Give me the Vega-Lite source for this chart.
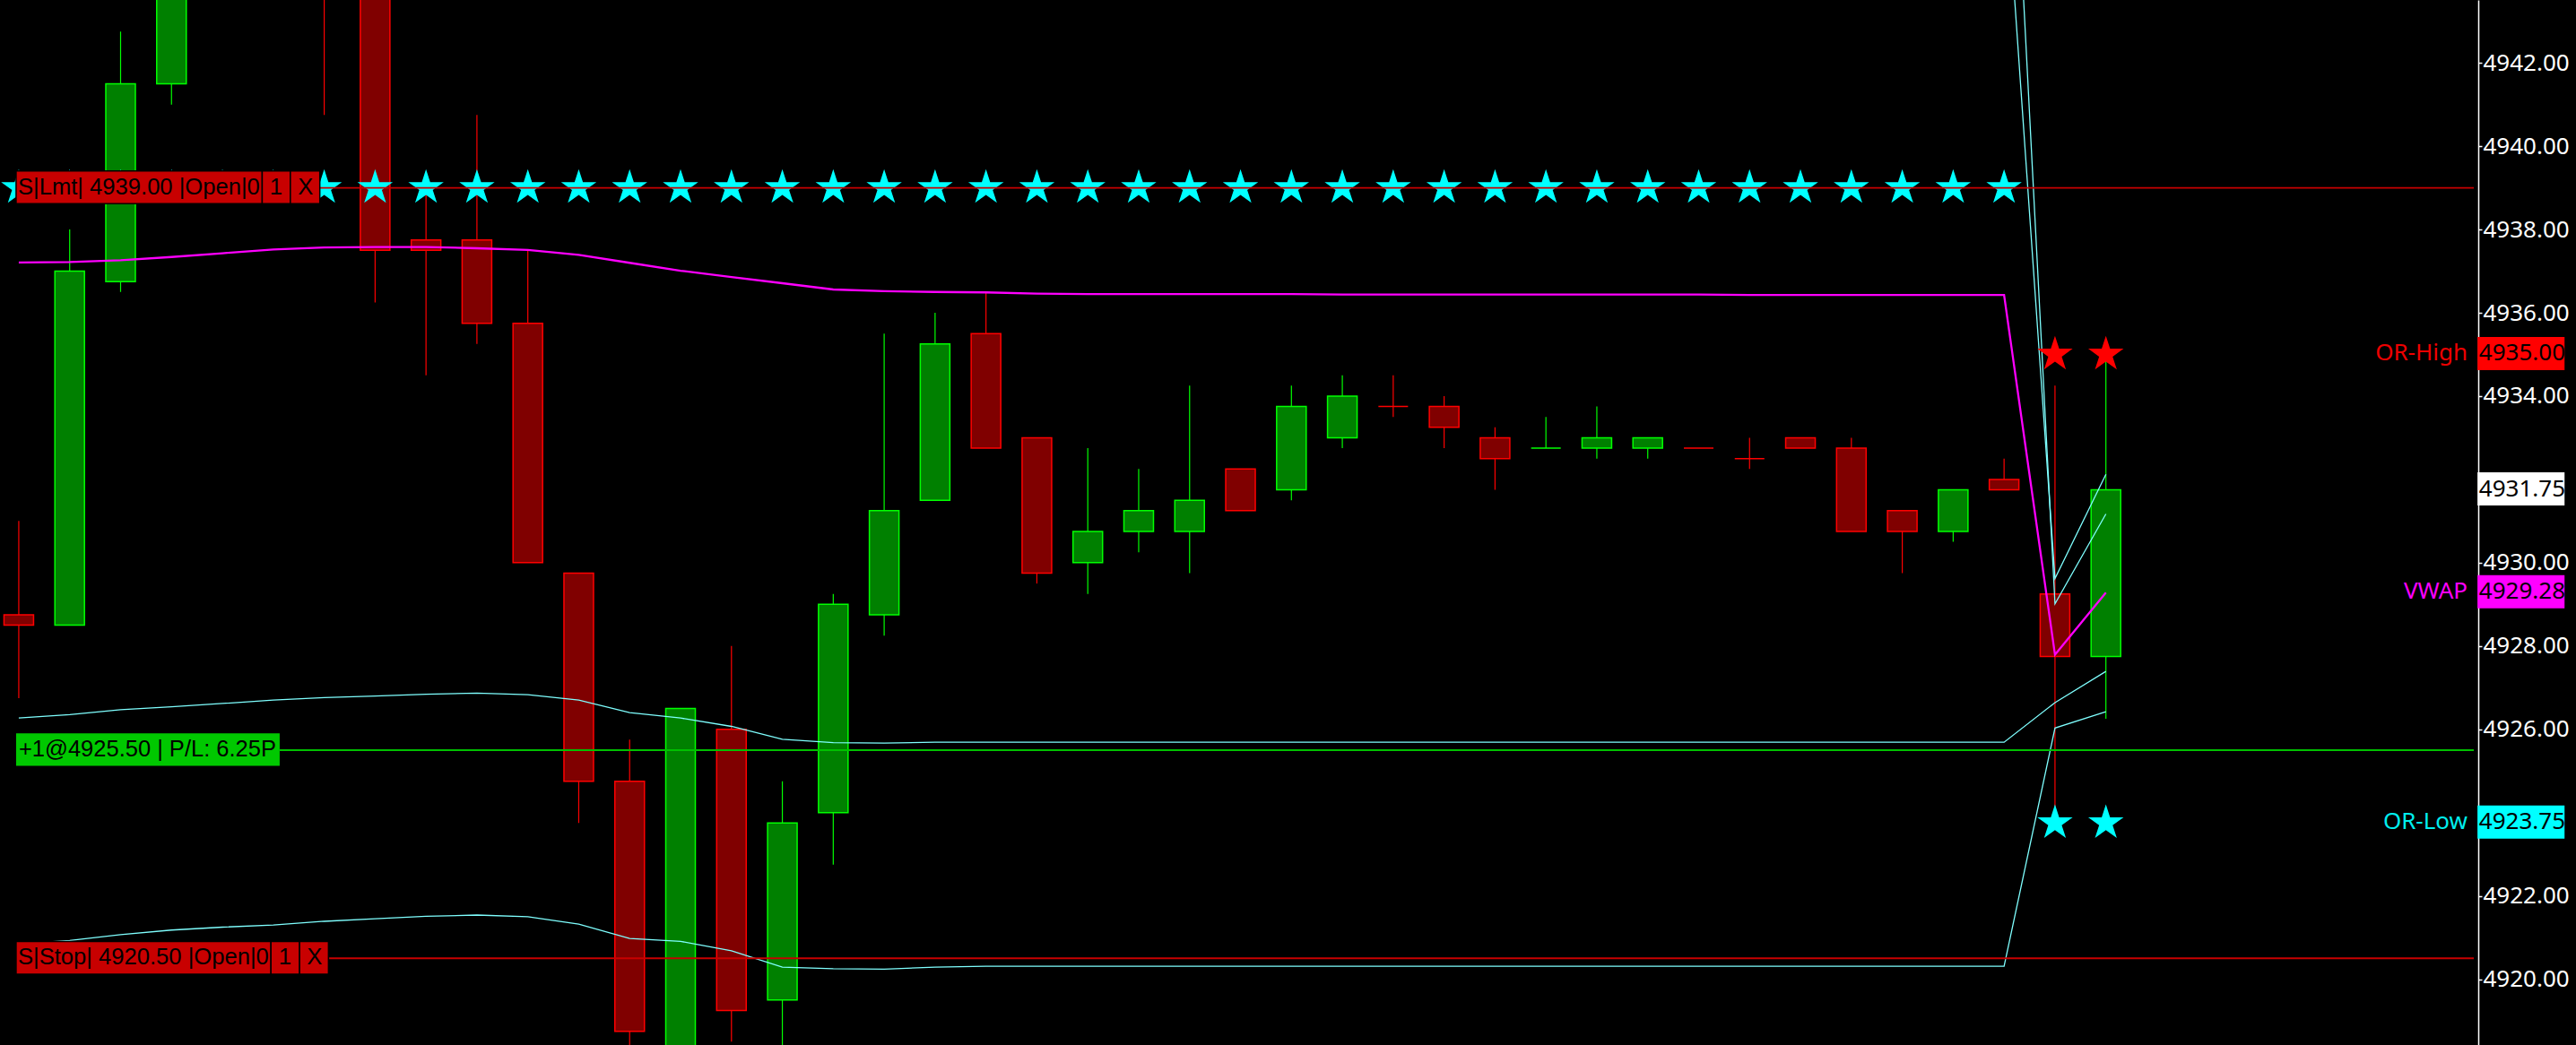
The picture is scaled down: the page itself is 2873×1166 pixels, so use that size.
{
"$schema": "https://vega.github.io/schema/vega-lite/v6.json",
"width": 2873,
"height": 1166,
"autosize": {"type": "fit", "contains": "padding"},
"padding": {"left": 0, "top": 0, "right": 7, "bottom": 0},
"background": "#000000",
"config": {"view": {"stroke": null},
 "axis": {"grid": false, "domainColor": "#ffffff", "domainWidth": 1.5, "tickColor": "#ffffff", "tickSize": 4, "tickWidth": 1.5,
          "labelColor": "#ffffff", "labelFont": "Noto Sans", "labelFontSize": 26, "labelPadding": 1, "labelFlush": false, "labelOverlap": false, "labelBound": false}},
"resolve": {"scale": {"color": "independent", "fill": "independent", "stroke": "independent"}},
"datasets": {
"candles": [
{"i":0,"open":4928.75,"high":4931.0,"low":4926.75,"close":4928.5,"dir":"down"},
{"i":1,"open":4928.5,"high":4938.0,"low":4928.5,"close":4937.0,"dir":"up"},
{"i":2,"open":4936.75,"high":4942.75,"low":4936.5,"close":4941.5,"dir":"up"},
{"i":3,"open":4941.5,"high":4946.0,"low":4941.0,"close":4945.5,"dir":"up"},
{"i":4,"open":4945.5,"high":4947.25,"low":4944.25,"close":4946.75,"dir":"up"},
{"i":5,"open":4946.75,"high":4947.5,"low":4944.5,"close":4945.25,"dir":"down"},
{"i":6,"open":4945.25,"high":4946.0,"low":4940.75,"close":4944.0,"dir":"down"},
{"i":7,"open":4944.0,"high":4944.5,"low":4936.25,"close":4937.5,"dir":"down"},
{"i":8,"open":4937.75,"high":4939.25,"low":4934.5,"close":4937.5,"dir":"down"},
{"i":9,"open":4937.75,"high":4940.75,"low":4935.25,"close":4935.75,"dir":"down"},
{"i":10,"open":4935.75,"high":4937.5,"low":4930.0,"close":4930.0,"dir":"down"},
{"i":11,"open":4929.75,"high":4929.75,"low":4923.75,"close":4924.75,"dir":"down"},
{"i":12,"open":4924.75,"high":4925.75,"low":4918.0,"close":4918.75,"dir":"down"},
{"i":13,"open":4917.75,"high":4926.5,"low":4917.5,"close":4926.5,"dir":"up"},
{"i":14,"open":4926.0,"high":4928.0,"low":4918.5,"close":4919.25,"dir":"down"},
{"i":15,"open":4919.5,"high":4924.75,"low":4918.0,"close":4923.75,"dir":"up"},
{"i":16,"open":4924.0,"high":4929.25,"low":4922.75,"close":4929.0,"dir":"up"},
{"i":17,"open":4928.75,"high":4935.5,"low":4928.25,"close":4931.25,"dir":"up"},
{"i":18,"open":4931.5,"high":4936.0,"low":4931.5,"close":4935.25,"dir":"up"},
{"i":19,"open":4935.5,"high":4936.5,"low":4932.75,"close":4932.75,"dir":"down"},
{"i":20,"open":4933.0,"high":4933.0,"low":4929.5,"close":4929.75,"dir":"down"},
{"i":21,"open":4930.0,"high":4932.75,"low":4929.25,"close":4930.75,"dir":"up"},
{"i":22,"open":4930.75,"high":4932.25,"low":4930.25,"close":4931.25,"dir":"up"},
{"i":23,"open":4930.75,"high":4934.25,"low":4929.75,"close":4931.5,"dir":"up"},
{"i":24,"open":4932.25,"high":4932.25,"low":4931.25,"close":4931.25,"dir":"down"},
{"i":25,"open":4931.75,"high":4934.25,"low":4931.5,"close":4933.75,"dir":"up"},
{"i":26,"open":4933.0,"high":4934.5,"low":4932.75,"close":4934.0,"dir":"up"},
{"i":27,"open":4933.75,"high":4934.5,"low":4933.5,"close":4933.75,"dir":"down"},
{"i":28,"open":4933.75,"high":4934.0,"low":4932.75,"close":4933.25,"dir":"down"},
{"i":29,"open":4933.0,"high":4933.25,"low":4931.75,"close":4932.5,"dir":"down"},
{"i":30,"open":4932.75,"high":4933.5,"low":4932.75,"close":4932.75,"dir":"up"},
{"i":31,"open":4932.75,"high":4933.75,"low":4932.5,"close":4933.0,"dir":"up"},
{"i":32,"open":4932.75,"high":4933.0,"low":4932.5,"close":4933.0,"dir":"up"},
{"i":33,"open":4932.75,"high":4932.75,"low":4932.75,"close":4932.75,"dir":"down"},
{"i":34,"open":4932.5,"high":4933.0,"low":4932.25,"close":4932.5,"dir":"down"},
{"i":35,"open":4933.0,"high":4933.0,"low":4932.75,"close":4932.75,"dir":"down"},
{"i":36,"open":4932.75,"high":4933.0,"low":4930.75,"close":4930.75,"dir":"down"},
{"i":37,"open":4931.25,"high":4931.25,"low":4929.75,"close":4930.75,"dir":"down"},
{"i":38,"open":4930.75,"high":4931.75,"low":4930.5,"close":4931.75,"dir":"up"},
{"i":39,"open":4932.0,"high":4932.5,"low":4931.75,"close":4931.75,"dir":"down"},
{"i":40,"open":4929.25,"high":4934.25,"low":4923.75,"close":4927.75,"dir":"down"},
{"i":41,"open":4927.75,"high":4935.0,"low":4926.25,"close":4931.75,"dir":"up"}
],
"bands": [
{"i":0,"vwap":4937.21,"u1":4948.15,"u2":4953.57,"l1":4926.27,"l2":4920.85},
{"i":1,"vwap":4937.22,"u1":4948.09,"u2":4953.51,"l1":4926.35,"l2":4920.93},
{"i":2,"vwap":4937.26,"u1":4948.05,"u2":4953.45,"l1":4926.47,"l2":4921.07},
{"i":3,"vwap":4937.34,"u1":4948.14,"u2":4953.50,"l1":4926.54,"l2":4921.18},
{"i":4,"vwap":4937.43,"u1":4948.24,"u2":4953.61,"l1":4926.62,"l2":4921.25},
{"i":5,"vwap":4937.52,"u1":4948.34,"u2":4953.74,"l1":4926.70,"l2":4921.30},
{"i":6,"vwap":4937.57,"u1":4948.38,"u2":4953.75,"l1":4926.76,"l2":4921.39},
{"i":7,"vwap":4937.58,"u1":4948.36,"u2":4953.71,"l1":4926.80,"l2":4921.45},
{"i":8,"vwap":4937.58,"u1":4948.32,"u2":4953.65,"l1":4926.84,"l2":4921.51},
{"i":9,"vwap":4937.55,"u1":4948.23,"u2":4953.56,"l1":4926.87,"l2":4921.54},
{"i":10,"vwap":4937.51,"u1":4948.19,"u2":4953.52,"l1":4926.83,"l2":4921.50},
{"i":11,"vwap":4937.39,"u1":4948.08,"u2":4953.46,"l1":4926.70,"l2":4921.32},
{"i":12,"vwap":4937.20,"u1":4948.00,"u2":4953.42,"l1":4926.40,"l2":4920.98},
{"i":13,"vwap":4937.01,"u1":4947.75,"u2":4953.11,"l1":4926.27,"l2":4920.91},
{"i":14,"vwap":4936.86,"u1":4947.65,"u2":4953.04,"l1":4926.07,"l2":4920.68},
{"i":15,"vwap":4936.71,"u1":4947.66,"u2":4953.13,"l1":4925.76,"l2":4920.29},
{"i":16,"vwap":4936.56,"u1":4947.44,"u2":4952.87,"l1":4925.68,"l2":4920.25},
{"i":17,"vwap":4936.52,"u1":4947.37,"u2":4952.80,"l1":4925.67,"l2":4920.24},
{"i":18,"vwap":4936.50,"u1":4947.31,"u2":4952.71,"l1":4925.69,"l2":4920.29},
{"i":19,"vwap":4936.49,"u1":4947.29,"u2":4952.67,"l1":4925.69,"l2":4920.31},
{"i":20,"vwap":4936.46,"u1":4947.23,"u2":4952.61,"l1":4925.69,"l2":4920.31},
{"i":21,"vwap":4936.45,"u1":4947.21,"u2":4952.59,"l1":4925.69,"l2":4920.31},
{"i":22,"vwap":4936.45,"u1":4947.21,"u2":4952.59,"l1":4925.69,"l2":4920.31},
{"i":23,"vwap":4936.45,"u1":4947.21,"u2":4952.59,"l1":4925.69,"l2":4920.31},
{"i":24,"vwap":4936.45,"u1":4947.21,"u2":4952.59,"l1":4925.69,"l2":4920.31},
{"i":25,"vwap":4936.45,"u1":4947.21,"u2":4952.59,"l1":4925.69,"l2":4920.31},
{"i":26,"vwap":4936.44,"u1":4947.19,"u2":4952.57,"l1":4925.69,"l2":4920.31},
{"i":27,"vwap":4936.44,"u1":4947.19,"u2":4952.57,"l1":4925.69,"l2":4920.31},
{"i":28,"vwap":4936.44,"u1":4947.19,"u2":4952.57,"l1":4925.69,"l2":4920.31},
{"i":29,"vwap":4936.44,"u1":4947.19,"u2":4952.57,"l1":4925.69,"l2":4920.31},
{"i":30,"vwap":4936.44,"u1":4947.19,"u2":4952.57,"l1":4925.69,"l2":4920.31},
{"i":31,"vwap":4936.44,"u1":4947.19,"u2":4952.57,"l1":4925.69,"l2":4920.31},
{"i":32,"vwap":4936.44,"u1":4947.19,"u2":4952.57,"l1":4925.69,"l2":4920.31},
{"i":33,"vwap":4936.44,"u1":4947.19,"u2":4952.57,"l1":4925.69,"l2":4920.31},
{"i":34,"vwap":4936.43,"u1":4947.17,"u2":4952.55,"l1":4925.69,"l2":4920.31},
{"i":35,"vwap":4936.43,"u1":4947.17,"u2":4952.55,"l1":4925.69,"l2":4920.31},
{"i":36,"vwap":4936.43,"u1":4947.17,"u2":4952.55,"l1":4925.69,"l2":4920.31},
{"i":37,"vwap":4936.43,"u1":4947.17,"u2":4952.55,"l1":4925.69,"l2":4920.31},
{"i":38,"vwap":4936.43,"u1":4947.17,"u2":4952.55,"l1":4925.69,"l2":4920.31},
{"i":39,"vwap":4936.43,"u1":4947.17,"u2":4952.55,"l1":4925.69,"l2":4920.31},
{"i":40,"vwap":4927.79,"u1":4929.62,"u2":4929.01,"l1":4926.64,"l2":4926.03},
{"i":41,"vwap":4929.28,"u1":4932.12,"u2":4931.17,"l1":4927.39,"l2":4926.42}
],
"stars": [
{"i":0,"level":4939,"kind":"cyan"},{"i":1,"level":4939,"kind":"cyan"},{"i":2,"level":4939,"kind":"cyan"},{"i":3,"level":4939,"kind":"cyan"},
{"i":4,"level":4939,"kind":"cyan"},{"i":5,"level":4939,"kind":"cyan"},{"i":6,"level":4939,"kind":"cyan"},{"i":7,"level":4939,"kind":"cyan"},
{"i":8,"level":4939,"kind":"cyan"},{"i":9,"level":4939,"kind":"cyan"},{"i":10,"level":4939,"kind":"cyan"},{"i":11,"level":4939,"kind":"cyan"},
{"i":12,"level":4939,"kind":"cyan"},{"i":13,"level":4939,"kind":"cyan"},{"i":14,"level":4939,"kind":"cyan"},{"i":15,"level":4939,"kind":"cyan"},
{"i":16,"level":4939,"kind":"cyan"},{"i":17,"level":4939,"kind":"cyan"},{"i":18,"level":4939,"kind":"cyan"},{"i":19,"level":4939,"kind":"cyan"},
{"i":20,"level":4939,"kind":"cyan"},{"i":21,"level":4939,"kind":"cyan"},{"i":22,"level":4939,"kind":"cyan"},{"i":23,"level":4939,"kind":"cyan"},
{"i":24,"level":4939,"kind":"cyan"},{"i":25,"level":4939,"kind":"cyan"},{"i":26,"level":4939,"kind":"cyan"},{"i":27,"level":4939,"kind":"cyan"},
{"i":28,"level":4939,"kind":"cyan"},{"i":29,"level":4939,"kind":"cyan"},{"i":30,"level":4939,"kind":"cyan"},{"i":31,"level":4939,"kind":"cyan"},
{"i":32,"level":4939,"kind":"cyan"},{"i":33,"level":4939,"kind":"cyan"},{"i":34,"level":4939,"kind":"cyan"},{"i":35,"level":4939,"kind":"cyan"},
{"i":36,"level":4939,"kind":"cyan"},{"i":37,"level":4939,"kind":"cyan"},{"i":38,"level":4939,"kind":"cyan"},{"i":39,"level":4939,"kind":"cyan"},
{"i":40,"level":4935.0,"kind":"red"},{"i":41,"level":4935.0,"kind":"red"},
{"i":40,"level":4923.75,"kind":"cyan"},{"i":41,"level":4923.75,"kind":"cyan"}
],
"orders": [
{"order":"lmt","price":4939.0,"text":"S|Lmt| 4939.00 |Open|0","qty":"1","cancel":"X"},
{"order":"stop","price":4920.5,"text":"S|Stop| 4920.50 |Open|0","qty":"1","cancel":"X"},
{"order":"pos","price":4925.5,"text":"+1@4925.50 | P/L: 6.25P","qty":"","cancel":""}
],
"levels": [
{"kind":"orh","name":"OR-High","price":4935.0,"val":"4935.00"},
{"kind":"last","name":"","price":4931.75,"val":"4931.75"},
{"kind":"vwap","name":"VWAP","price":4929.28,"val":"4929.28"},
{"kind":"orl","name":"OR-Low","price":4923.75,"val":"4923.75"}
]
},
"layer": [
{"data":{"name":"candles"},"mark":{"type":"rule","strokeWidth":1.2,"clip":true},
 "encoding":{
  "x":{"field":"i","type":"quantitative","scale":{"domain":[-0.2808,48.227],"nice":false,"zero":false},"axis":null},
  "y":{"field":"low","type":"quantitative","scale":{"domain":[4918.42,4943.51],"nice":false,"zero":false},"title":null,
       "axis":{"orient":"right","values":[4920,4922,4924,4926,4928,4930,4932,4934,4936,4938,4940,4942],"format":".2f",
               "labelExpr":"datum.value == 4924 || datum.value == 4932 ? '' : datum.label","title":null}},
  "y2":{"field":"high"},
  "color":{"field":"dir","type":"nominal","scale":{"domain":["up","down"],"range":["#00ff00","#ff0000"]},"legend":null}}},
{"data":{"name":"candles"},"mark":{"type":"bar","size":33,"strokeWidth":1.5,"clip":true},
 "encoding":{
  "x":{"field":"i","type":"quantitative","scale":{"domain":[-0.2808,48.227],"nice":false,"zero":false},"axis":null},
  "y":{"field":"open","type":"quantitative","scale":{"domain":[4918.42,4943.51],"nice":false,"zero":false},"title":null},
  "y2":{"field":"close"},
  "fill":{"field":"dir","type":"nominal","scale":{"domain":["up","down"],"range":["#008000","#800000"]},"legend":null},
  "stroke":{"field":"dir","type":"nominal","scale":{"domain":["up","down"],"range":["#00ff00","#ff0000"]},"legend":null}}},
{"data":{"name":"bands"},
 "layer":[
  {"mark":{"type":"line","color":"#7fffff","strokeWidth":1.3,"clip":true},
   "encoding":{"x":{"field":"i","type":"quantitative","scale":{"domain":[-0.2808,48.227],"nice":false,"zero":false},"axis":null},
               "y":{"field":"u1","type":"quantitative","scale":{"domain":[4918.42,4943.51],"nice":false,"zero":false},"title":null}}},
  {"mark":{"type":"line","color":"#7fffff","strokeWidth":1.3,"clip":true},
   "encoding":{"x":{"field":"i","type":"quantitative","scale":{"domain":[-0.2808,48.227],"nice":false,"zero":false},"axis":null},
               "y":{"field":"u2","type":"quantitative","scale":{"domain":[4918.42,4943.51],"nice":false,"zero":false},"title":null}}},
  {"mark":{"type":"line","color":"#7fffff","strokeWidth":1.3,"clip":true},
   "encoding":{"x":{"field":"i","type":"quantitative","scale":{"domain":[-0.2808,48.227],"nice":false,"zero":false},"axis":null},
               "y":{"field":"l1","type":"quantitative","scale":{"domain":[4918.42,4943.51],"nice":false,"zero":false},"title":null}}},
  {"mark":{"type":"line","color":"#7fffff","strokeWidth":1.3,"clip":true},
   "encoding":{"x":{"field":"i","type":"quantitative","scale":{"domain":[-0.2808,48.227],"nice":false,"zero":false},"axis":null},
               "y":{"field":"l2","type":"quantitative","scale":{"domain":[4918.42,4943.51],"nice":false,"zero":false},"title":null}}},
  {"mark":{"type":"line","color":"#ff00ff","strokeWidth":2.3,"clip":true},
   "encoding":{"x":{"field":"i","type":"quantitative","scale":{"domain":[-0.2808,48.227],"nice":false,"zero":false},"axis":null},
               "y":{"field":"vwap","type":"quantitative","scale":{"domain":[4918.42,4943.51],"nice":false,"zero":false},"title":null}}}
 ]},
{"data":{"name":"stars"},
 "mark":{"type":"point","shape":"M0,-1L0.2245,-0.309L0.9511,-0.309L0.3633,0.118L0.5878,0.809L0,0.382L-0.5878,0.809L-0.3633,0.118L-0.9511,-0.309L-0.2245,-0.309Z","size":1720,"filled":true,"opacity":1,"strokeWidth":0,"clip":true},
 "encoding":{"x":{"field":"i","type":"quantitative","scale":{"domain":[-0.2808,48.227],"nice":false,"zero":false},"axis":null},
             "y":{"field":"level","type":"quantitative","scale":{"domain":[4918.42,4943.51],"nice":false,"zero":false},"title":null},
             "color":{"field":"kind","type":"nominal","scale":{"domain":["cyan","red"],"range":["#00ffff","#ff0000"]},"legend":null}}},
{"data":{"name":"orders"},"transform":[{"filter":"datum.order == 'lmt'"}],
 "mark":{"type":"rule","color":"#c80000","strokeWidth":1.8},
 "encoding":{"x":{"datum":5.914,"type":"quantitative","scale":{"domain":[-0.2808,48.227],"nice":false,"zero":false},"axis":null},"x2":{"datum":48.227},
             "y":{"field":"price","type":"quantitative","scale":{"domain":[4918.42,4943.51],"nice":false,"zero":false},"title":null}}},
{"data":{"name":"orders"},"transform":[{"filter":"datum.order == 'stop'"}],
 "mark":{"type":"rule","color":"#c80000","strokeWidth":2},
 "encoding":{"x":{"datum":6.084,"type":"quantitative","scale":{"domain":[-0.2808,48.227],"nice":false,"zero":false},"axis":null},"x2":{"datum":48.227},
             "y":{"field":"price","type":"quantitative","scale":{"domain":[4918.42,4943.51],"nice":false,"zero":false},"title":null}}},
{"data":{"name":"orders"},"transform":[{"filter":"datum.order == 'pos'"}],
 "mark":{"type":"rule","color":"#00c000","strokeWidth":2},
 "encoding":{"x":{"datum":5.125,"type":"quantitative","scale":{"domain":[-0.2808,48.227],"nice":false,"zero":false},"axis":null},"x2":{"datum":48.227},
             "y":{"field":"price","type":"quantitative","scale":{"domain":[4918.42,4943.51],"nice":false,"zero":false},"title":null}}},
{"data":{"name":"orders"},"transform":[{"filter":"datum.order == 'lmt'"}],
 "layer":[
  {"mark":{"type":"rect","fill":"#c80000","stroke":"#000000","strokeWidth":1.5,"yOffset":-18.8,"y2Offset":17.6},
   "encoding":{"x":{"datum":-0.0527,"type":"quantitative","scale":{"domain":[-0.2808,48.227],"nice":false,"zero":false},"axis":null},"x2":{"datum":4.782},
               "y":{"field":"price","type":"quantitative","scale":{"domain":[4918.42,4943.51],"nice":false,"zero":false},"title":null},"y2":{"field":"price"}}},
  {"mark":{"type":"rect","fill":"#c80000","stroke":"#000000","strokeWidth":1.5,"yOffset":-18.8,"y2Offset":17.6},
   "encoding":{"x":{"datum":4.782,"type":"quantitative","scale":{"domain":[-0.2808,48.227],"nice":false,"zero":false},"axis":null},"x2":{"datum":5.335},
               "y":{"field":"price","type":"quantitative","scale":{"domain":[4918.42,4943.51],"nice":false,"zero":false},"title":null},"y2":{"field":"price"}}},
  {"mark":{"type":"rect","fill":"#c80000","stroke":"#000000","strokeWidth":1.5,"yOffset":-18.8,"y2Offset":17.6},
   "encoding":{"x":{"datum":5.335,"type":"quantitative","scale":{"domain":[-0.2808,48.227],"nice":false,"zero":false},"axis":null},"x2":{"datum":5.914},
               "y":{"field":"price","type":"quantitative","scale":{"domain":[4918.42,4943.51],"nice":false,"zero":false},"title":null},"y2":{"field":"price"}}},
  {"mark":{"type":"text","align":"left","baseline":"middle","font":"Liberation Sans","fontSize":25.6,"color":"#000000","dy":-1},
   "encoding":{"x":{"datum":-0.0176,"type":"quantitative","scale":{"domain":[-0.2808,48.227],"nice":false,"zero":false},"axis":null},
               "y":{"field":"price","type":"quantitative","scale":{"domain":[4918.42,4943.51],"nice":false,"zero":false},"title":null},"text":{"field":"text"}}},
  {"mark":{"type":"text","align":"center","baseline":"middle","font":"Liberation Sans","fontSize":25.6,"color":"#000000","dy":-1},
   "encoding":{"x":{"datum":5.054,"type":"quantitative","scale":{"domain":[-0.2808,48.227],"nice":false,"zero":false},"axis":null},
               "y":{"field":"price","type":"quantitative","scale":{"domain":[4918.42,4943.51],"nice":false,"zero":false},"title":null},"text":{"field":"qty"}}},
  {"mark":{"type":"text","align":"center","baseline":"middle","font":"Liberation Sans","fontSize":25.6,"color":"#000000","dy":-1},
   "encoding":{"x":{"datum":5.633,"type":"quantitative","scale":{"domain":[-0.2808,48.227],"nice":false,"zero":false},"axis":null},
               "y":{"field":"price","type":"quantitative","scale":{"domain":[4918.42,4943.51],"nice":false,"zero":false},"title":null},"text":{"field":"cancel"}}}
 ]},
{"data":{"name":"orders"},"transform":[{"filter":"datum.order == 'stop'"}],
 "layer":[
  {"mark":{"type":"rect","fill":"#c80000","stroke":"#000000","strokeWidth":1.5,"yOffset":-18.8,"y2Offset":17.6},
   "encoding":{"x":{"datum":-0.0527,"type":"quantitative","scale":{"domain":[-0.2808,48.227],"nice":false,"zero":false},"axis":null},"x2":{"datum":4.954},
               "y":{"field":"price","type":"quantitative","scale":{"domain":[4918.42,4943.51],"nice":false,"zero":false},"title":null},"y2":{"field":"price"}}},
  {"mark":{"type":"rect","fill":"#c80000","stroke":"#000000","strokeWidth":1.5,"yOffset":-18.8,"y2Offset":17.6},
   "encoding":{"x":{"datum":4.954,"type":"quantitative","scale":{"domain":[-0.2808,48.227],"nice":false,"zero":false},"axis":null},"x2":{"datum":5.516},
               "y":{"field":"price","type":"quantitative","scale":{"domain":[4918.42,4943.51],"nice":false,"zero":false},"title":null},"y2":{"field":"price"}}},
  {"mark":{"type":"rect","fill":"#c80000","stroke":"#000000","strokeWidth":1.5,"yOffset":-18.8,"y2Offset":17.6},
   "encoding":{"x":{"datum":5.516,"type":"quantitative","scale":{"domain":[-0.2808,48.227],"nice":false,"zero":false},"axis":null},"x2":{"datum":6.084},
               "y":{"field":"price","type":"quantitative","scale":{"domain":[4918.42,4943.51],"nice":false,"zero":false},"title":null},"y2":{"field":"price"}}},
  {"mark":{"type":"text","align":"left","baseline":"middle","font":"Liberation Sans","fontSize":25.6,"color":"#000000","dy":-1},
   "encoding":{"x":{"datum":-0.0176,"type":"quantitative","scale":{"domain":[-0.2808,48.227],"nice":false,"zero":false},"axis":null},
               "y":{"field":"price","type":"quantitative","scale":{"domain":[4918.42,4943.51],"nice":false,"zero":false},"title":null},"text":{"field":"text"}}},
  {"mark":{"type":"text","align":"center","baseline":"middle","font":"Liberation Sans","fontSize":25.6,"color":"#000000","dy":-1},
   "encoding":{"x":{"datum":5.230,"type":"quantitative","scale":{"domain":[-0.2808,48.227],"nice":false,"zero":false},"axis":null},
               "y":{"field":"price","type":"quantitative","scale":{"domain":[4918.42,4943.51],"nice":false,"zero":false},"title":null},"text":{"field":"qty"}}},
  {"mark":{"type":"text","align":"center","baseline":"middle","font":"Liberation Sans","fontSize":25.6,"color":"#000000","dy":-1},
   "encoding":{"x":{"datum":5.809,"type":"quantitative","scale":{"domain":[-0.2808,48.227],"nice":false,"zero":false},"axis":null},
               "y":{"field":"price","type":"quantitative","scale":{"domain":[4918.42,4943.51],"nice":false,"zero":false},"title":null},"text":{"field":"cancel"}}}
 ]},
{"data":{"name":"orders"},"transform":[{"filter":"datum.order == 'pos'"}],
 "layer":[
  {"mark":{"type":"rect","fill":"#00c800","yOffset":-18.8,"y2Offset":17.6},
   "encoding":{"x":{"datum":-0.0527,"type":"quantitative","scale":{"domain":[-0.2808,48.227],"nice":false,"zero":false},"axis":null},"x2":{"datum":5.125},
               "y":{"field":"price","type":"quantitative","scale":{"domain":[4918.42,4943.51],"nice":false,"zero":false},"title":null},"y2":{"field":"price"}}},
  {"mark":{"type":"text","align":"left","baseline":"middle","font":"Liberation Sans","fontSize":25.5,"color":"#000000","dy":-1},
   "encoding":{"x":{"datum":0.0,"type":"quantitative","scale":{"domain":[-0.2808,48.227],"nice":false,"zero":false},"axis":null},
               "y":{"field":"price","type":"quantitative","scale":{"domain":[4918.42,4943.51],"nice":false,"zero":false},"title":null},"text":{"field":"text"}}}
 ]},
{"data":{"name":"levels"},"transform":[{"filter":"datum.name != ''"}],
 "mark":{"type":"text","align":"right","baseline":"middle","font":"Noto Sans","fontSize":26,"dy":-1},
 "encoding":{"x":{"datum":48.104,"type":"quantitative","scale":{"domain":[-0.2808,48.227],"nice":false,"zero":false},"axis":null},
             "y":{"field":"price","type":"quantitative","scale":{"domain":[4918.42,4943.51],"nice":false,"zero":false},"title":null},
             "text":{"field":"name"},
             "color":{"field":"kind","type":"nominal","scale":{"domain":["orh","vwap","orl"],"range":["#ee0000","#ff00ff","#00eeee"]},"legend":null}}},
{"data":{"name":"levels"},
 "mark":{"type":"rect","yOffset":-19.5,"y2Offset":17.5},
 "encoding":{"x":{"datum":48.30,"type":"quantitative","scale":{"domain":[-0.2808,48.227],"nice":false,"zero":false},"axis":null},"x2":{"datum":50.01},
             "y":{"field":"price","type":"quantitative","scale":{"domain":[4918.42,4943.51],"nice":false,"zero":false},"title":null},"y2":{"field":"price"},
             "fill":{"field":"kind","type":"nominal","scale":{"domain":["orh","vwap","orl","last"],"range":["#ff0000","#ff00ff","#00ffff","#ffffff"]},"legend":null}}},
{"data":{"name":"levels"},
 "mark":{"type":"text","align":"left","baseline":"middle","font":"Noto Sans","fontSize":26,"color":"#000000","dy":-1},
 "encoding":{"x":{"datum":48.33,"type":"quantitative","scale":{"domain":[-0.2808,48.227],"nice":false,"zero":false},"axis":null},
             "y":{"field":"price","type":"quantitative","scale":{"domain":[4918.42,4943.51],"nice":false,"zero":false},"title":null},
             "text":{"field":"val"}}}
]
}
